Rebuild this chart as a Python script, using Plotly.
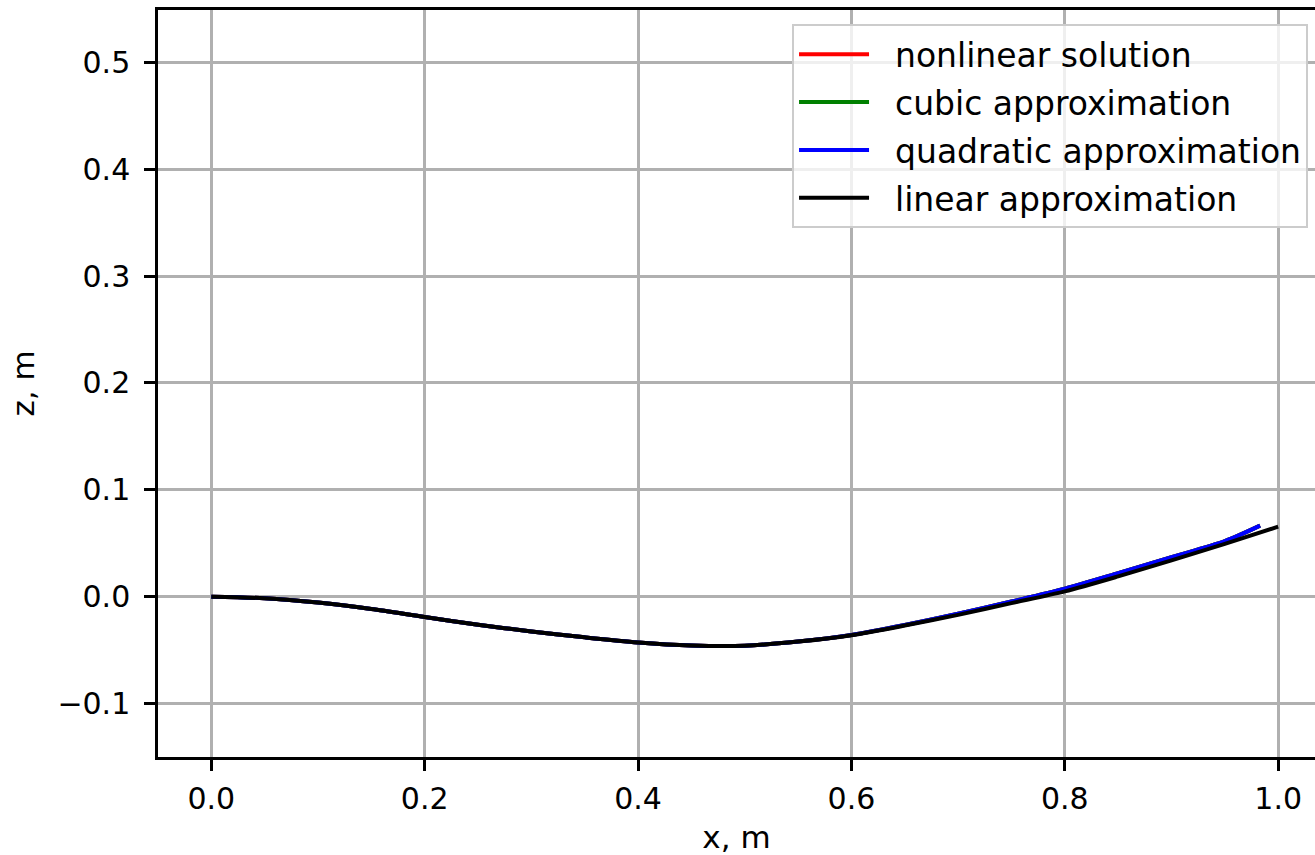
import plotly.graph_objects as go

# Linear approximation (ends at x = 1.0)
x_linear = [0.0, 0.05, 0.1, 0.15, 0.2, 0.25, 0.3, 0.35, 0.4, 0.45, 0.5, 0.55, 0.6, 0.65, 0.7, 0.75, 0.8, 0.85, 0.9, 0.95, 1.0]
z_linear = [0.0, -0.0015, -0.0055, -0.0115, -0.019, -0.0262, -0.0325, -0.038, -0.0428, -0.0456, -0.0458, -0.042, -0.036, -0.027, -0.017, -0.006, 0.005, 0.019, 0.034, 0.0495, 0.0655]

# Nonlinear / cubic / quadratic (end slightly short of x = 1.0)
x_nonlin = [0.0, 0.05, 0.1, 0.15, 0.2, 0.25, 0.3, 0.35, 0.4, 0.45, 0.5, 0.55, 0.6, 0.65, 0.7, 0.75, 0.8, 0.85, 0.9, 0.95, 0.983]
z_nonlin = [0.0, -0.0015, -0.0055, -0.0115, -0.019, -0.0262, -0.0325, -0.038, -0.0428, -0.0456, -0.0458, -0.042, -0.0358, -0.0265, -0.016, -0.0045, 0.0075, 0.022, 0.037, 0.052, 0.0665]
z_cubic = list(z_nonlin)
z_quad = list(z_nonlin)

names = ["nonlinear solution", "cubic approximation", "quadratic approximation", "linear approximation"]
colors = ["#ff0000", "#008000", "#0000ff", "#000000"]

x_ticks = [0.0, 0.2, 0.4, 0.6, 0.8, 1.0]
y_ticks = [-0.1, 0.0, 0.1, 0.2, 0.3, 0.4, 0.5]

series = [
    (x_nonlin, z_nonlin),
    (x_nonlin, z_cubic),
    (x_nonlin, z_quad),
    (x_linear, z_linear),
]

fig = go.Figure()
for i, ((xs, zs), name, col) in enumerate(zip(series, names, colors)):
    fig.add_trace(go.Scatter(x=xs, y=zs, mode="lines", name="\u00a0\u00a0" + name, legendgroup=f"g{i}",
                             line=dict(color=col, width=4, shape="spline", smoothing=0.8)))

FONT = "DejaVu Sans"
axis_common = dict(
    showline=True, linecolor="black", linewidth=2.5,
    ticks="outside", ticklen=11, tickwidth=2.5, tickcolor="black",
    showgrid=True, gridcolor="#b0b0b0", gridwidth=2.5,
    zeroline=False,
    tickfont=dict(family=FONT, size=30, color="black"),
)

fig.update_layout(
    width=1315, height=855,
    margin=dict(l=158, r=0, t=10, b=98),
    plot_bgcolor="white", paper_bgcolor="white",
    font=dict(family=FONT, size=30, color="black"),
    xaxis=dict(range=[-0.05, 1.0345], tickvals=x_ticks,
               ticktext=[f"{v:.1f}" for v in x_ticks],
               mirror=True, ticklabelstandoff=2,
               title=dict(text="x, m", font=dict(family=FONT, size=31), standoff=14),
               **axis_common),
    yaxis=dict(range=[-0.15, 0.549], tickvals=y_ticks,
               ticktext=[("\u2212" + f"{abs(v):.1f}") if v < 0 else f"{v:.1f}" for v in y_ticks],
               ticklabelstandoff=8,
               title=dict(text="z, m", font=dict(family=FONT, size=31), standoff=14),
               **axis_common),
    legend=dict(x=0.548, y=0.981, xanchor="left", yanchor="top",
                bgcolor="rgba(255,255,255,0.8)", bordercolor="#cccccc", borderwidth=2,
                font=dict(family=FONT, size=33, color="black"),
                traceorder="grouped", tracegroupgap=2, itemwidth=70),
    showlegend=True,
)

fig.write_html("out.html")
